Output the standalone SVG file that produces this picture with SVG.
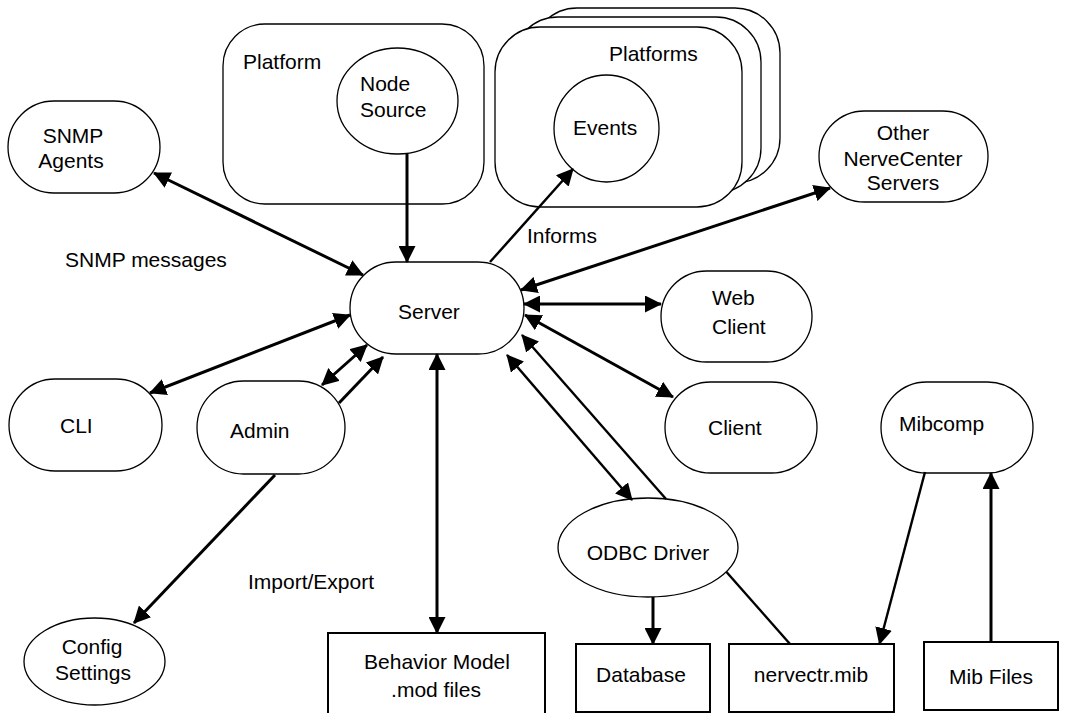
<svg xmlns="http://www.w3.org/2000/svg" width="1067" height="713" viewBox="0 0 1067 713">
<style>
  .shape { fill: #fff; stroke: #000; stroke-width: 1.3; }
  .box { fill: #fff; stroke: #000; stroke-width: 2; }
  text { font-family: "Liberation Sans", Arial, sans-serif; font-size: 21px; fill: #000; }
  .c { text-anchor: middle; }
  .conn { fill: none; stroke: #000; stroke-width: 3; }
  .thin { stroke-width: 2.4; }
  .arr { marker-end: url(#ah); }
  .both { marker-start: url(#ah); marker-end: url(#ah); }
</style>
<defs>
  <marker id="ah" markerUnits="userSpaceOnUse" viewBox="0 0 17 17" markerWidth="17" markerHeight="17" refX="16" refY="8.5" orient="auto-start-reverse">
    <path d="M0,0 L17,8.5 L0,17 z" fill="#000"/>
  </marker>
</defs>
<rect width="1067" height="713" fill="#fff"/>

<g id="platform">
  <rect class="shape" x="223" y="24" width="261" height="180" rx="42" ry="42"/>
  <text x="243" y="69">Platform</text>
</g>
<g id="node-source">
  <ellipse class="shape" cx="397.5" cy="101" rx="60.5" ry="53"/>
  <text x="360" y="91">Node</text>
  <text x="360" y="117">Source</text>
</g>
<g id="platforms">
  <rect class="shape" x="532" y="8" width="248" height="175" rx="45" ry="45"/>
  <rect class="shape" x="513" y="17" width="248" height="176" rx="45" ry="45"/>
  <rect class="shape" x="495" y="27" width="247" height="180" rx="45" ry="45"/>
  <text x="609" y="61">Platforms</text>
</g>
<g id="events">
  <ellipse class="shape" cx="606.5" cy="128.5" rx="52.5" ry="53.5"/>
  <text x="573" y="135">Events</text>
</g>
<g id="snmp-agents">
  <rect class="shape" x="8" y="101" width="152" height="92" rx="46" ry="46"/>
  <text class="c" x="73" y="143">SNMP</text>
  <text class="c" x="71" y="168">Agents</text>
</g>
<g id="other-servers">
  <rect class="shape" x="819" y="111" width="169" height="91" rx="45.5" ry="45.5"/>
  <text class="c" x="903" y="140">Other</text>
  <text class="c" x="903" y="166">NerveCenter</text>
  <text class="c" x="903" y="190">Servers</text>
</g>
<g id="server">
  <rect class="shape" x="350" y="262" width="174" height="92" rx="46" ry="46"/>
  <text x="398" y="319">Server</text>
</g>
<g id="web-client">
  <rect class="shape" x="661" y="271" width="151" height="91" rx="45.5" ry="45.5"/>
  <text x="712" y="305">Web</text>
  <text x="712" y="334">Client</text>
</g>
<g id="client">
  <rect class="shape" x="665" y="382" width="152" height="91" rx="45.5" ry="45.5"/>
  <text x="708" y="435">Client</text>
</g>
<g id="mibcomp">
  <rect class="shape" x="881" y="382" width="152" height="91" rx="45.5" ry="45.5"/>
  <text x="899" y="431">Mibcomp</text>
</g>
<g id="cli">
  <rect class="shape" x="9" y="379" width="153" height="92" rx="46" ry="46"/>
  <text x="60" y="433">CLI</text>
</g>
<g id="admin">
  <rect class="shape" x="197" y="381" width="148" height="93" rx="46.5" ry="46.5"/>
  <text x="230" y="438">Admin</text>
</g>
<g id="config-settings">
  <ellipse class="shape" cx="94.5" cy="661.5" rx="70.5" ry="43.5"/>
  <text class="c" x="92" y="654">Config</text>
  <text class="c" x="93" y="680">Settings</text>
</g>
<g id="odbc-driver">
  <ellipse class="shape" cx="648" cy="547.5" rx="90" ry="49.5"/>
  <text class="c" x="648" y="560">ODBC Driver</text>
</g>
<g id="behavior-model">
  <rect class="box" x="328" y="633" width="217" height="100"/>
  <text class="c" x="437" y="669">Behavior Model</text>
  <text class="c" x="436" y="697">.mod files</text>
</g>
<g id="database">
  <rect class="box" x="576" y="644" width="134" height="68"/>
  <text class="c" x="641" y="682">Database</text>
</g>
<g id="nervectr-mib">
  <rect class="box" x="729" y="644" width="165" height="68"/>
  <text class="c" x="811" y="682">nervectr.mib</text>
</g>
<g id="mib-files">
  <rect class="box" x="924" y="642" width="134" height="68"/>
  <text class="c" x="991" y="684">Mib Files</text>
</g>

<g id="labels">
  <text x="65" y="267">SNMP messages</text>
  <text x="527" y="243">Informs</text>
  <text x="248" y="589">Import/Export</text>
</g>

<g id="connectors">
  <line class="conn arr" x1="407" y1="154" x2="407" y2="262"/>
  <line class="conn thin arr" x1="490" y1="262" x2="573" y2="169"/>
  <line class="conn both" x1="154" y1="173" x2="363" y2="275"/>
  <line class="conn both" x1="150" y1="393" x2="350" y2="315"/>
  <line class="conn both" x1="322" y1="385" x2="367" y2="345"/>
  <line class="conn arr" x1="339" y1="403" x2="383" y2="357"/>
  <line class="conn arr" x1="275" y1="475" x2="134" y2="623"/>
  <line class="conn both" x1="437" y1="354" x2="437" y2="633"/>
  <line class="conn both" x1="521" y1="290" x2="830" y2="188"/>
  <line class="conn both" x1="524" y1="304" x2="661" y2="304"/>
  <line class="conn both" x1="525" y1="315" x2="673" y2="397"/>
  <line class="conn thin both" x1="507" y1="355" x2="632" y2="500"/>
  <line class="conn thin arr" x1="666" y1="499" x2="522" y2="335"/>
  <line class="conn arr" x1="653" y1="597" x2="653" y2="644"/>
  <line class="conn thin" x1="726.5" y1="572" x2="790" y2="644"/>
  <line class="conn thin arr" x1="925" y1="472" x2="879.5" y2="644"/>
  <line class="conn arr" x1="991" y1="642" x2="991" y2="473"/>
</g>
</svg>
